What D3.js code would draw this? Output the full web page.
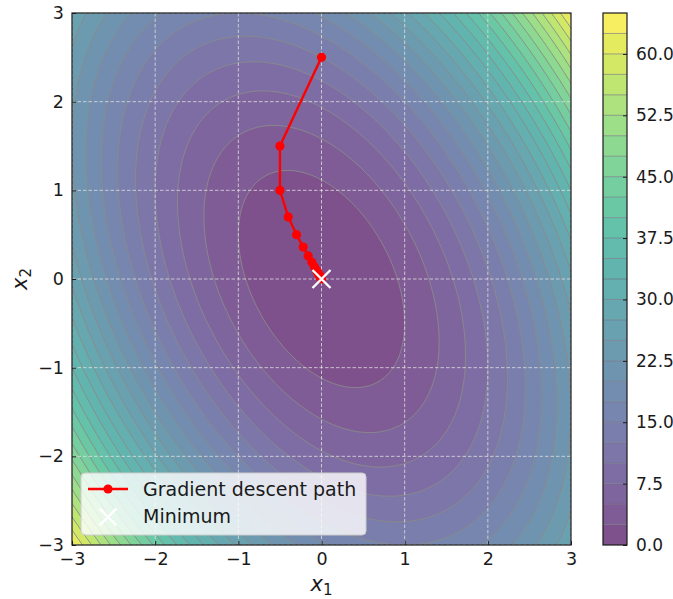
<!DOCTYPE html>
<html>
<head>
<meta charset="utf-8">
<script src="https://cdn.jsdelivr.net/npm/d3@7"></script>
<style>
  body { margin: 0; background: #fff; }
  text { font-family: "DejaVu Sans", sans-serif; fill: #1a1a1a; }
</style>
</head>
<body>
<svg id="chart" width="673" height="599"></svg>
<script>
// surface f(x1, x2) = a*x1^2 + b*x1*x2 + c*x2^2
var surfaceCoef = [3, 2, 2];
var levels = [0, 2.5, 5, 7.5, 10, 12.5, 15, 17.5, 20, 22.5, 25, 27.5, 30, 32.5,
              35, 37.5, 40, 42.5, 45, 47.5, 50, 52.5, 55, 57.5, 60, 62.5, 65];
var cbarTicks = [0, 7.5, 15, 22.5, 30, 37.5, 45, 52.5, 60];
var axisTicks = [-3, -2, -1, 0, 1, 2, 3];

// gradient descent iterates
var pathX = [0, -0.5, -0.5, -0.4, -0.3, -0.22, -0.16, -0.116, -0.084, -0.061, -0.044,
             -0.032, -0.023, -0.017, -0.012, -0.009, -0.006, -0.005, -0.003, -0.002, -0.002];
var pathY = [2.5, 1.5, 1.0, 0.7, 0.5, 0.36, 0.26, 0.188, 0.136, 0.098, 0.071,
             0.052, 0.037, 0.027, 0.020, 0.014, 0.010, 0.007, 0.005, 0.004, 0.003];
var minimum = [0, 0];

var svg = d3.select("#chart");
var plot = {left: 72, top: 13, width: 499, height: 532};
var cbar = {left: 603, top: 13, width: 24, height: 532};
var alpha = 0.7;

var x = d3.scaleLinear().domain([-3, 3]).range([plot.left, plot.left + plot.width]);
var y = d3.scaleLinear().domain([-3, 3]).range([plot.top + plot.height, plot.top]);
var vmax = levels[levels.length - 1];

function bandColor(k) {
  var mid = (levels[k] + levels[k + 1]) / 2;
  var c = d3.rgb(d3.interpolateViridis(mid / vmax));
  return d3.rgb(c.r * alpha + 255 * (1 - alpha),
                c.g * alpha + 255 * (1 - alpha),
                c.b * alpha + 255 * (1 - alpha)).formatHex();
}

// sample the surface on a grid
var n = 301;
var step = 6 / (n - 1);
var values = new Array(n * n);
for (var j = 0; j < n; j++) {
  for (var i = 0; i < n; i++) {
    var a = -3 + i * step, b = -3 + j * step;
    values[j * n + i] = surfaceCoef[0] * a * a + surfaceCoef[1] * a * b + surfaceCoef[2] * b * b;
  }
}
var gx = d3.scaleLinear().domain([0.5, n - 0.5]).range([x(-3), x(3)]);
var gy = d3.scaleLinear().domain([0.5, n - 0.5]).range([y(-3), y(3)]);
var geo = d3.geoPath(d3.geoTransform({
  point: function(px, py) { this.stream.point(gx(px), gy(py)); }
}));

svg.append("clipPath").attr("id", "clip")
  .append("rect")
    .attr("x", plot.left).attr("y", plot.top)
    .attr("width", plot.width).attr("height", plot.height);

var fillLevels = levels.slice(0, levels.length - 1);
var bands = d3.contours().size([n, n]).thresholds(fillLevels)(values);

var g = svg.append("g").attr("clip-path", "url(#clip)");

g.selectAll("path.band")
  .data(bands)
  .enter().append("path")
    .attr("class", "band")
    .attr("d", geo)
    .attr("fill", function(d, k) { return bandColor(k); });

var lineLevels = levels.slice(1, levels.length - 1);
g.selectAll("path.iso")
  .data(d3.contours().size([n, n]).thresholds(lineLevels)(values))
  .enter().append("path")
    .attr("class", "iso")
    .attr("d", geo)
    .attr("fill", "none")
    .attr("stroke", "#8a8a8a")
    .attr("stroke-opacity", 0.95)
    .attr("stroke-width", 1);

// grid
g.selectAll("line.gx")
  .data(axisTicks)
  .enter().append("line")
    .attr("x1", d => x(d)).attr("x2", d => x(d))
    .attr("y1", plot.top).attr("y2", plot.top + plot.height)
    .attr("stroke", "#e6e6e6").attr("stroke-opacity", 0.75)
    .attr("stroke-width", 1).attr("stroke-dasharray", "3.5,2");
g.selectAll("line.gy")
  .data(axisTicks)
  .enter().append("line")
    .attr("y1", d => y(d)).attr("y2", d => y(d))
    .attr("x1", plot.left).attr("x2", plot.left + plot.width)
    .attr("stroke", "#e6e6e6").attr("stroke-opacity", 0.75)
    .attr("stroke-width", 1).attr("stroke-dasharray", "3.5,2");

// gradient descent path
var pts = pathX.map(function(v, k) { return [v, pathY[k]]; });
g.append("path")
  .attr("d", d3.line().x(d => x(d[0])).y(d => y(d[1]))(pts))
  .attr("fill", "none").attr("stroke", "#ff0000").attr("stroke-width", 2.4);
g.selectAll("circle.pt")
  .data(pts)
  .enter().append("circle")
    .attr("cx", d => x(d[0])).attr("cy", d => y(d[1]))
    .attr("r", 4.6).attr("fill", "#ff0000");

function drawX(sel, cx, cy, s) {
  sel.append("path")
    .attr("d", "M" + (cx - s) + "," + (cy - s) + "L" + (cx + s) + "," + (cy + s) +
               "M" + (cx - s) + "," + (cy + s) + "L" + (cx + s) + "," + (cy - s))
    .attr("stroke", "#fff").attr("stroke-width", 2.4).attr("fill", "none");
}
drawX(g, x(minimum[0]), y(minimum[1]), 9);

// axes
var xAxis = d3.axisBottom(x).tickValues(axisTicks).tickSizeInner(-4).tickSizeOuter(0)
  .tickPadding(8).tickFormat(d => d3.format("")(d).replace("-", "\u2212"));
var yAxis = d3.axisLeft(y).tickValues(axisTicks).tickSizeInner(-4).tickSizeOuter(0)
  .tickPadding(8).tickFormat(d => d3.format("")(d).replace("-", "\u2212"));

var gxAxis = svg.append("g")
  .attr("transform", "translate(0," + (plot.top + plot.height) + ")")
  .call(xAxis);
var gyAxis = svg.append("g")
  .attr("transform", "translate(" + plot.left + ",0)")
  .call(yAxis);
[gxAxis, gyAxis].forEach(function(a) {
  a.select(".domain").remove();
  a.selectAll("line").attr("stroke", "#1a1a1a").attr("stroke-width", 1);
  a.selectAll("text").style("font-size", "17.5px").attr("fill", "#1a1a1a");
});

svg.append("rect")
  .attr("x", plot.left).attr("y", plot.top)
  .attr("width", plot.width).attr("height", plot.height)
  .attr("fill", "none").attr("stroke", "#1a1a1a").attr("stroke-width", 1.2);

// axis labels
var xl = svg.append("text")
  .attr("x", x(0)).attr("y", 591)
  .attr("text-anchor", "middle").style("font-size", "21px");
xl.append("tspan").style("font-style", "italic").text("x");
xl.append("tspan").attr("dy", 4).style("font-size", "15px").text("1");

var yl = svg.append("text")
  .attr("transform", "translate(27," + y(0) + ") rotate(-90)")
  .attr("text-anchor", "middle").style("font-size", "21px");
yl.append("tspan").style("font-style", "italic").text("x");
yl.append("tspan").attr("dy", 4).style("font-size", "15px").text("2");

// legend
var lg = svg.append("g");
lg.append("rect")
  .attr("x", 81).attr("y", 473).attr("width", 285).attr("height", 62)
  .attr("rx", 4).attr("fill", "#fff").attr("fill-opacity", 0.8)
  .attr("stroke", "#cccccc").attr("stroke-width", 1);
lg.append("line")
  .attr("x1", 88).attr("x2", 128).attr("y1", 489).attr("y2", 489)
  .attr("stroke", "#ff0000").attr("stroke-width", 2.4);
lg.append("circle").attr("cx", 108).attr("cy", 489).attr("r", 4.6).attr("fill", "#ff0000");
drawX(lg, 108, 517, 8.5);
lg.append("text").attr("x", 143).attr("y", 496).style("font-size", "19px")
  .attr("fill", "#333").text("Gradient descent path");
lg.append("text").attr("x", 143).attr("y", 523).style("font-size", "19px")
  .attr("fill", "#333").text("Minimum");

// colorbar
var cy = d3.scaleLinear().domain([0, vmax]).range([cbar.top + cbar.height, cbar.top]);
var cb = svg.append("g");
cb.selectAll("rect.cb")
  .data(fillLevels)
  .enter().append("rect")
    .attr("x", cbar.left).attr("width", cbar.width)
    .attr("y", (d, k) => cy(levels[k + 1]))
    .attr("height", (d, k) => cy(levels[k]) - cy(levels[k + 1]))
    .attr("fill", (d, k) => bandColor(k));
cb.selectAll("line.cl")
  .data(lineLevels)
  .enter().append("line")
    .attr("x1", cbar.left).attr("x2", cbar.left + cbar.width)
    .attr("y1", d => cy(d)).attr("y2", d => cy(d))
    .attr("stroke", "#6a6a7a").attr("stroke-opacity", 0.6).attr("stroke-width", 1);
cb.append("rect")
  .attr("x", cbar.left).attr("y", cbar.top)
  .attr("width", cbar.width).attr("height", cbar.height)
  .attr("fill", "none").attr("stroke", "#1a1a1a").attr("stroke-width", 1.2);
var cAxis = d3.axisRight(cy).tickValues(cbarTicks).tickSizeInner(-4).tickSizeOuter(0)
  .tickPadding(9).tickFormat(d3.format(".1f"));
var gc = svg.append("g")
  .attr("transform", "translate(" + (cbar.left + cbar.width) + ",0)")
  .call(cAxis);
gc.select(".domain").remove();
gc.selectAll("line").attr("stroke", "#1a1a1a");
gc.selectAll("text").style("font-size", "17px").attr("fill", "#1a1a1a");
</script>
</body>
</html>
